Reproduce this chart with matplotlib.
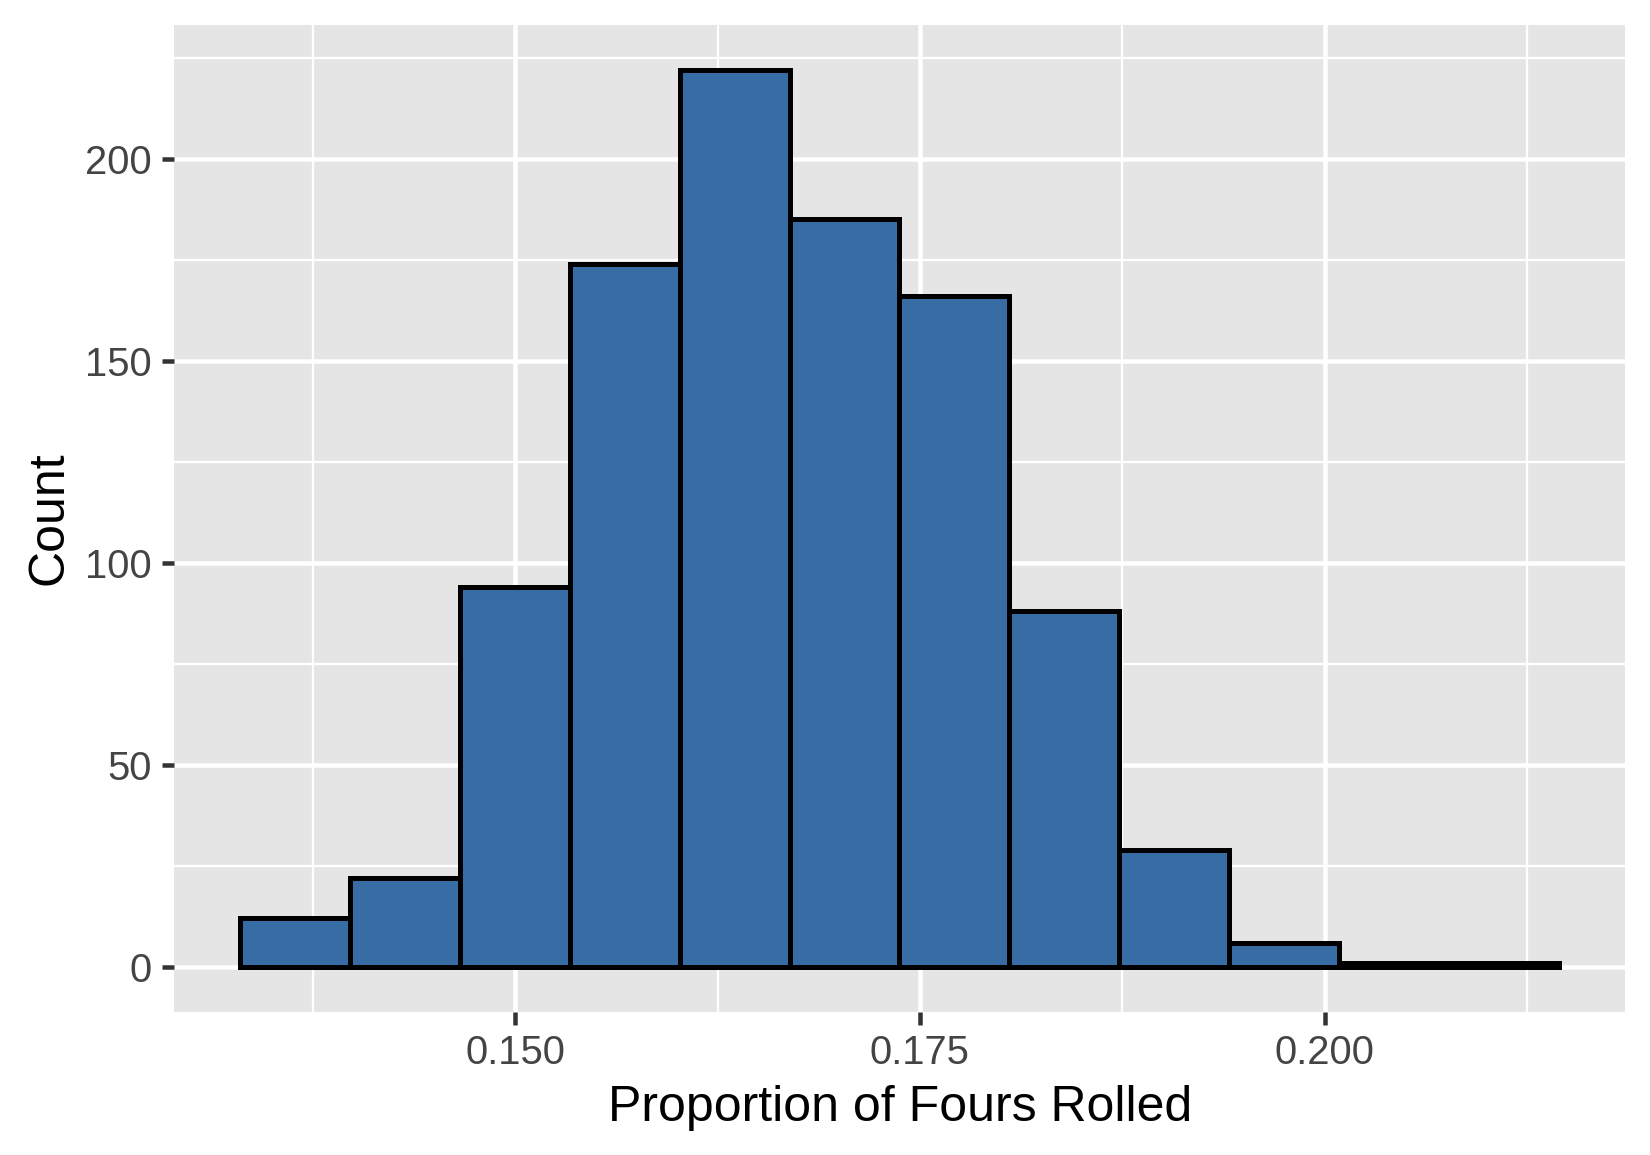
import matplotlib
matplotlib.use("Agg")
import matplotlib.pyplot as plt
from matplotlib.ticker import FixedLocator, FixedFormatter

# histogram data
bin_edges = [0.1330, 0.1398, 0.1466, 0.1534, 0.1602, 0.1670, 0.1737,
             0.1805, 0.1873, 0.1941, 0.2009, 0.2077, 0.2145]
counts = [12, 22, 94, 174, 222, 185, 166, 88, 29, 6, 1, 1]

x_ticks = [0.150, 0.175, 0.200]
x_tick_labels = ["0.150", "0.175", "0.200"]
x_minor = [0.1375, 0.1625, 0.1875, 0.2125]
y_ticks = [0, 50, 100, 150, 200]
y_tick_labels = ["0", "50", "100", "150", "200"]
y_minor = [25, 75, 125, 175, 225]

plt.rcParams['font.family'] = ['Liberation Sans', 'DejaVu Sans']

fig = plt.figure(figsize=(5.5, 3.85), dpi=300)
ax = fig.add_axes([0.1055, 0.1240, 0.9850 - 0.1055, 0.9784 - 0.1240])
ax.set_facecolor('#E5E5E5')

lefts = bin_edges[:-1]
widths = [b - a for a, b in zip(bin_edges[:-1], bin_edges[1:])]
ax.bar(lefts, counts, width=widths, align='edge', color='#386CA5',
       edgecolor='black', linewidth=1.2, zorder=3)

# ggplot-style 5% expansion
lo, hi = bin_edges[0], bin_edges[-1]
pad = (hi - lo) * 0.05
ax.set_xlim(lo - pad, hi + pad)
ypad = max(counts) * 0.05
ax.set_ylim(-ypad, max(counts) + ypad)

ax.xaxis.set_major_locator(FixedLocator(x_ticks))
ax.xaxis.set_major_formatter(FixedFormatter(x_tick_labels))
ax.xaxis.set_minor_locator(FixedLocator(x_minor))
ax.yaxis.set_major_locator(FixedLocator(y_ticks))
ax.yaxis.set_major_formatter(FixedFormatter(y_tick_labels))
ax.yaxis.set_minor_locator(FixedLocator(y_minor))

ax.grid(which='major', color='white', linewidth=1.08, zorder=0)
ax.grid(which='minor', color='white', linewidth=0.54, zorder=0)
ax.set_axisbelow(True)

for s in ax.spines.values():
    s.set_visible(False)

ax.tick_params(which='major', length=3, width=1.08, color='#333333',
               labelsize=9.6, labelcolor='#444444', pad=2.4)
ax.tick_params(which='minor', length=0)

ax.set_xlabel("Proportion of Fours Rolled", fontsize=12, color='black', labelpad=3)
ax.set_ylabel("Count", fontsize=12, color='black', labelpad=3)

fig.savefig("out.png", dpi=300, facecolor='white')
